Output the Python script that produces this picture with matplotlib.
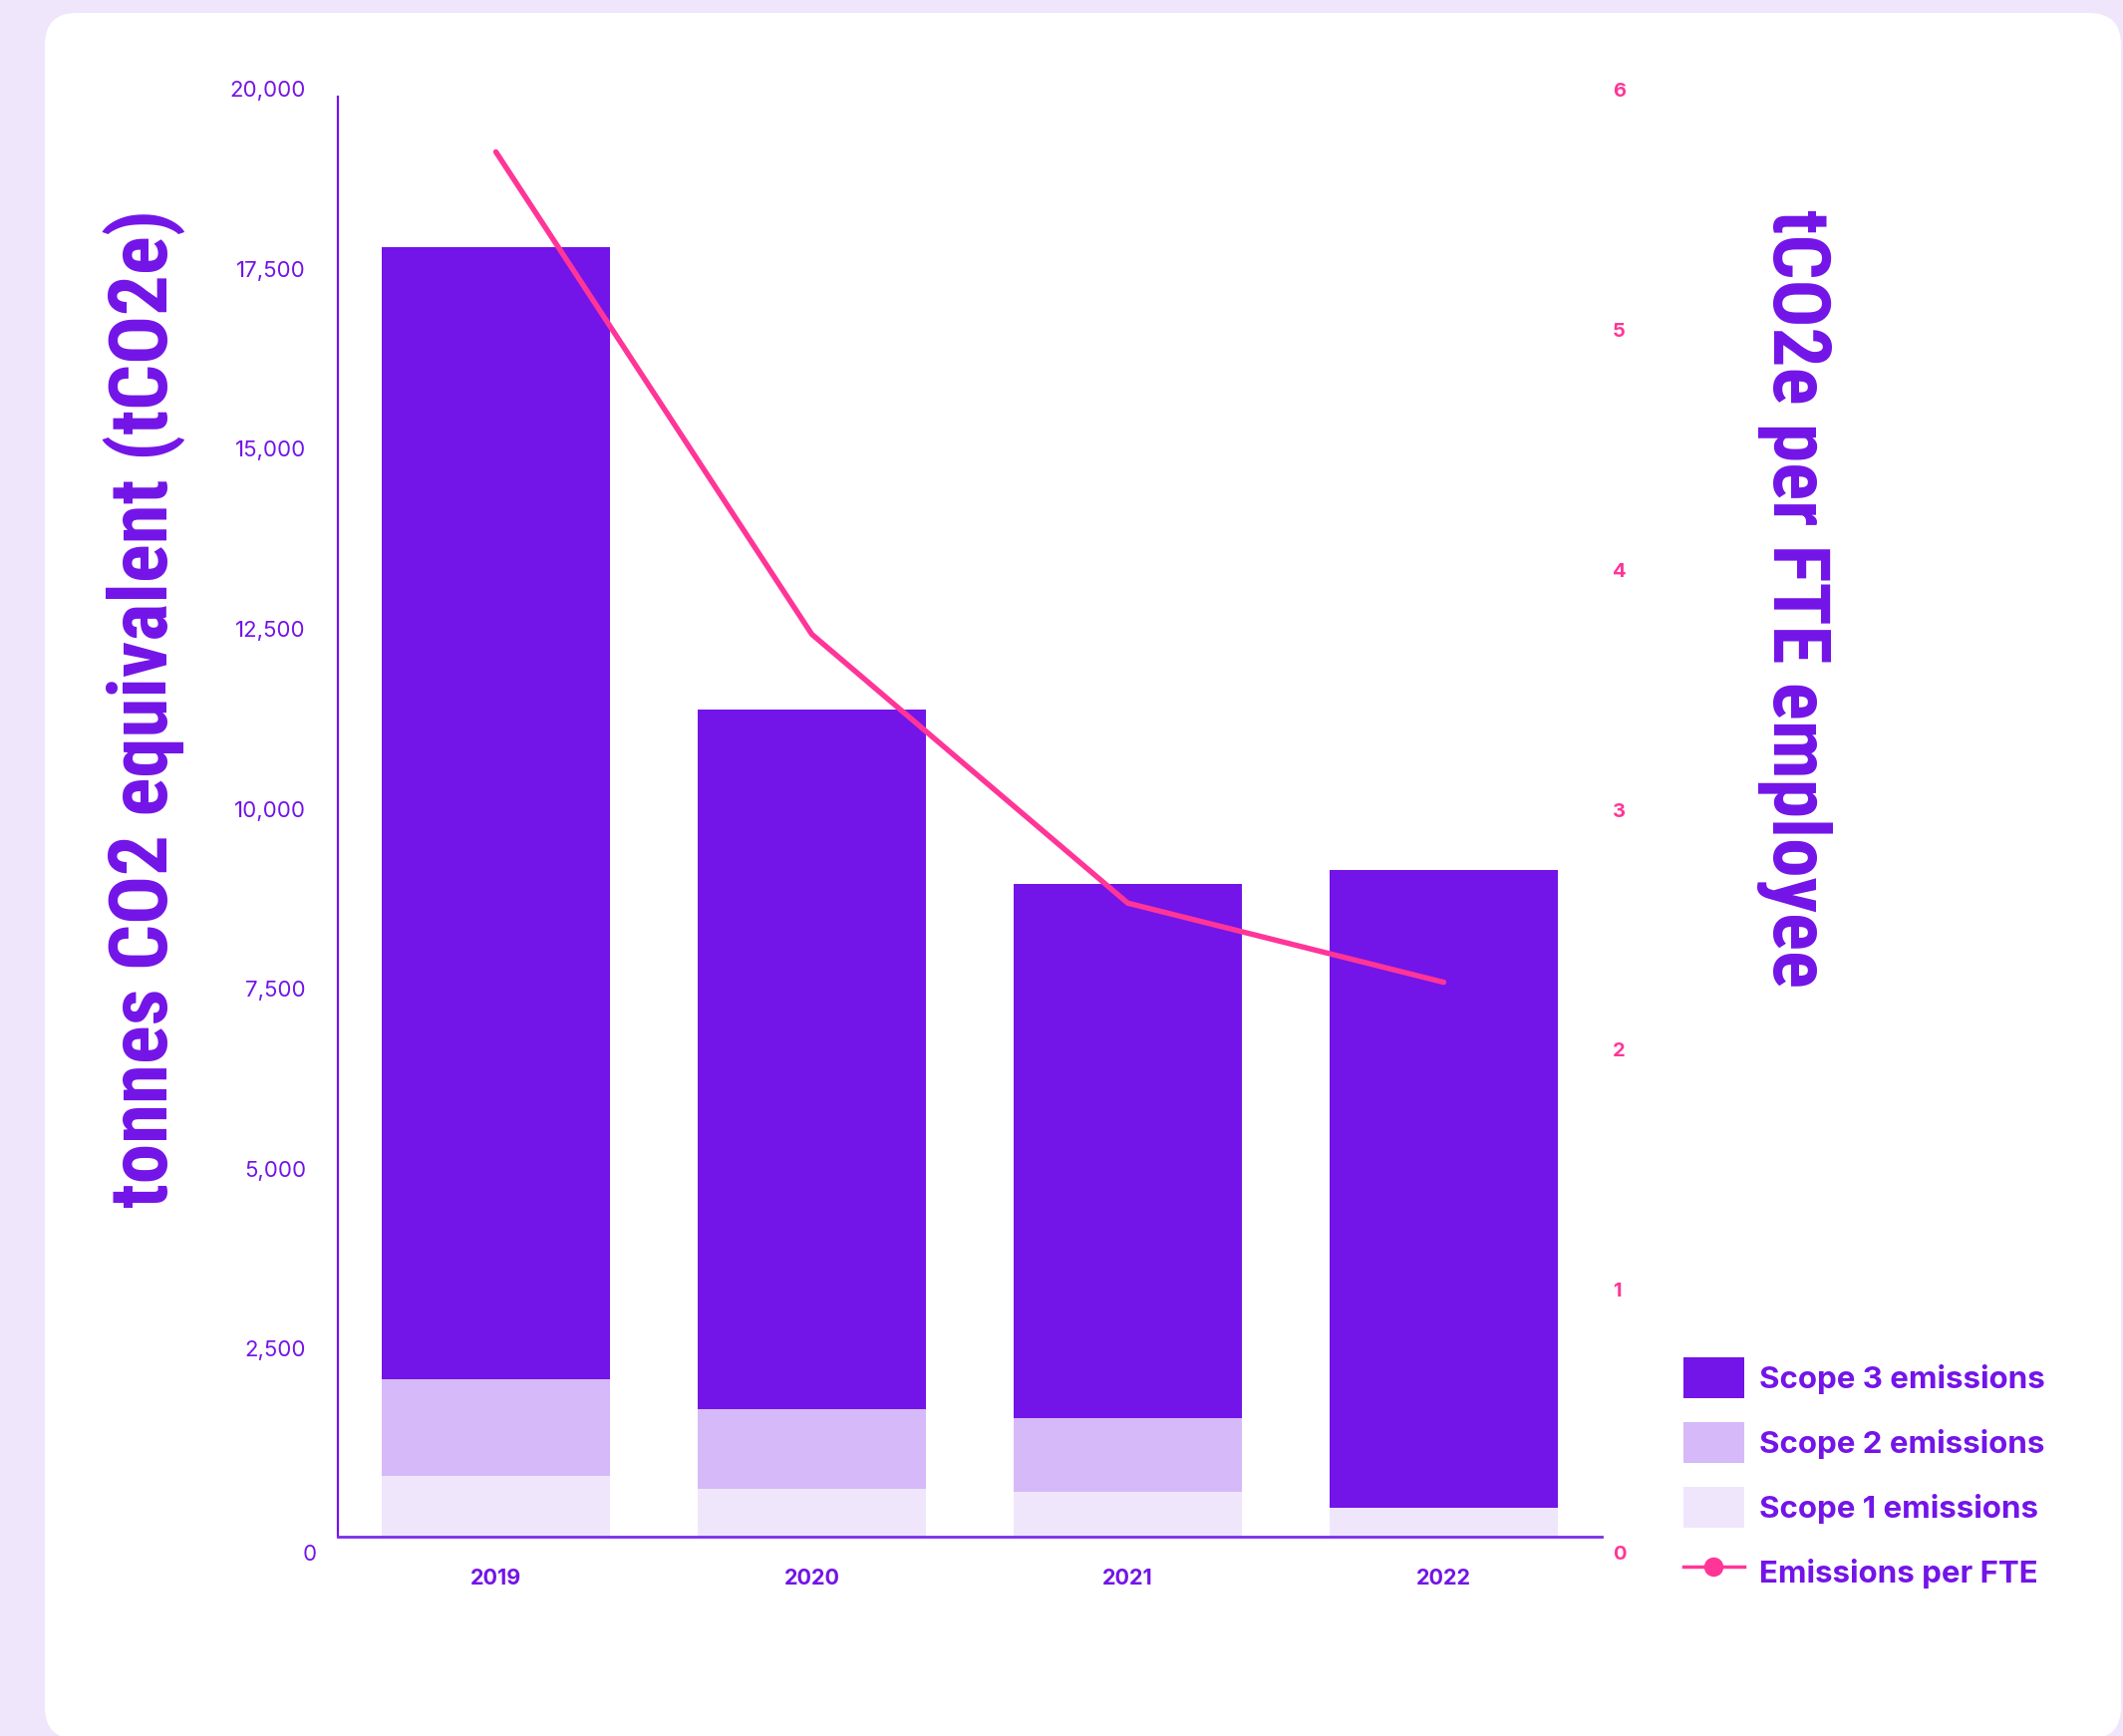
import numpy as np
import matplotlib
matplotlib.use('Agg')
import matplotlib.pyplot as plt
from matplotlib.patches import FancyBboxPatch, Patch
from matplotlib.lines import Line2D
import matplotlib.transforms as mtransforms
from matplotlib.ticker import FuncFormatter
from matplotlib import font_manager as fm

# ---------------- data ----------------
years = ['2019', '2020', '2021', '2022']
scope1 = [848, 664, 623, 401]
scope2 = [1339, 1108, 1024, 0]
scope3 = [15727, 9716, 7419, 8852]
per_fte = [5.77, 3.76, 2.64, 2.31]
left_ticks = [0, 2500, 5000, 7500, 10000, 12500, 15000, 17500, 20000]
right_ticks = [0, 1, 2, 3, 4, 5, 6]
legend_labels = ['Scope 3 emissions', 'Scope 2 emissions', 'Scope 1 emissions', 'Emissions per FTE']
left_title = 'tonnes CO2 equivalent (tCO2e)'
right_title = 'tCO2e per FTE employee'

# ---------------- style ----------------
BG = '#EFE6FC'
PURPLE = '#7314E8'
C_S3 = '#7314E8'
C_S2 = '#D6B9F8'
C_S1 = '#EFE6FB'
PINK = '#FF3598'

plt.rcParams['font.family'] = ['Inter', 'DejaVu Sans']

fonts = fm.fontManager.ttflist
names = {f.name for f in fonts}
title_kw = dict(family='Roboto', weight='bold')
for cand in ['Roboto Condensed', 'Liberation Sans Narrow', 'DejaVu Sans Condensed']:
    if cand in names:
        title_kw = dict(family=cand, weight='bold')
        break
else:
    if 'Roboto' not in names:
        title_kw = dict(family='Liberation Sans', weight='bold')

W, H, DPI = 2130, 1742, 100
fig = plt.figure(figsize=(W / DPI, H / DPI), dpi=DPI)
fig.patch.set_facecolor(BG)

card = FancyBboxPatch((45, -3), 2083, 1732, boxstyle='round,pad=0,rounding_size=32',
                      transform=mtransforms.IdentityTransform(), facecolor='white',
                      edgecolor='none', zorder=-5)
fig.patches.append(card)
card.set_figure(fig)

L, R, T, B = 339, 1607, 97, 1542
ax = fig.add_axes([L / W, (H - B) / H, (R - L) / W, (B - T) / H])
ax.patch.set_alpha(0)

x = np.arange(len(years))
bw = 0.722
s1 = np.array(scope1)
s2 = np.array(scope2)
s3 = np.array(scope3)
ax.bar(x, s1, width=bw, color=C_S1, linewidth=0)
ax.bar(x, s2, width=bw, bottom=s1, color=C_S2, linewidth=0)
ax.bar(x, s3, width=bw, bottom=s1 + s2, color=C_S3, linewidth=0)

ax.set_xlim(-0.5, 3.5)
ax.set_ylim(0, 20000)
ax.set_xticks(x)
ax.set_xticklabels(years)
ax.set_yticks(left_ticks)
ax.yaxis.set_major_formatter(FuncFormatter(lambda v, p: f'{int(v):,}'))
for s in ['top', 'right']:
    ax.spines[s].set_visible(False)
ax.spines['left'].set_color(PURPLE)
ax.spines['left'].set_linewidth(1.6)
ax.spines['bottom'].set_color('#7A2CEC')
ax.spines['bottom'].set_linewidth(2.0)
ax.tick_params(axis='y', length=0, pad=23, labelsize=16, labelcolor=PURPLE)
ax.tick_params(axis='x', length=0, pad=23, labelsize=15.5, labelcolor=PURPLE)

ax2 = ax.twinx()
ax2.patch.set_alpha(0)
ax2.plot(x, per_fte, color=PINK, lw=3.9, solid_capstyle='round', solid_joinstyle='miter')
ax2.set_ylim(0, 6)
ax2.set_yticks(right_ticks)
for s in ['top', 'right', 'left', 'bottom']:
    ax2.spines[s].set_visible(False)
ax2.tick_params(axis='y', length=0, pad=8, labelsize=14.5, labelcolor=PINK)

# legend
handles = [Patch(facecolor=C_S3, edgecolor='none'),
           Patch(facecolor=C_S2, edgecolor='none'),
           Patch(facecolor=C_S1, edgecolor='none'),
           Line2D([], [], color=PINK, lw=2.5, marker='o', ms=13, mfc=PINK, mec=PINK)]
leg = fig.legend(handles, legend_labels, loc='upper left',
                 bbox_to_anchor=(1689 / W, 1 - 1362 / H), bbox_transform=fig.transFigure,
                 frameon=False, borderpad=0, borderaxespad=0,
                 prop=dict(family=['Inter', 'DejaVu Sans'], weight='bold', size=22.5),
                 handlelength=1.95, handleheight=1.64, labelspacing=0.77,
                 handletextpad=0.48, labelcolor=PURPLE)

# titles
t1 = fig.text(145 / W, 1 - 210 / H, left_title, rotation=90, ha='center', va='top',
              color=PURPLE, fontsize=60, **title_kw)
t2 = fig.text(1800 / W, 1 - 210 / H, right_title, rotation=-90, ha='center', va='top',
              color=PURPLE, fontsize=60, **title_kw)

fig.canvas.draw()
r = fig.canvas.get_renderer()
for t, target in ((t1, 1003), (t2, 782)):
    bb = t.get_window_extent(r)
    t.set_fontsize(60 * target / bb.height)

# tick label weights / offsets
for lab in ax.get_xticklabels():
    lab.set_fontweight('bold')
for lab in ax2.get_yticklabels():
    lab.set_fontweight('bold')

def shift(lab, dx_px, dy_px):
    off = mtransforms.ScaledTranslation(dx_px / DPI, dy_px / DPI, fig.dpi_scale_trans)
    lab.set_transform(lab.get_transform() + off)

for tick, v in zip(ax.yaxis.get_major_ticks(), left_ticks):
    if v == 0:
        shift(tick.label1, 11, -16)
    else:
        shift(tick.label1, 0, 8)
for tick, v in zip(ax2.yaxis.get_major_ticks(), right_ticks):
    if v == 0:
        shift(tick.label2, 0, -16)
    else:
        shift(tick.label2, 0, 7)

fig.savefig('out.png', dpi=DPI, facecolor=fig.get_facecolor())
